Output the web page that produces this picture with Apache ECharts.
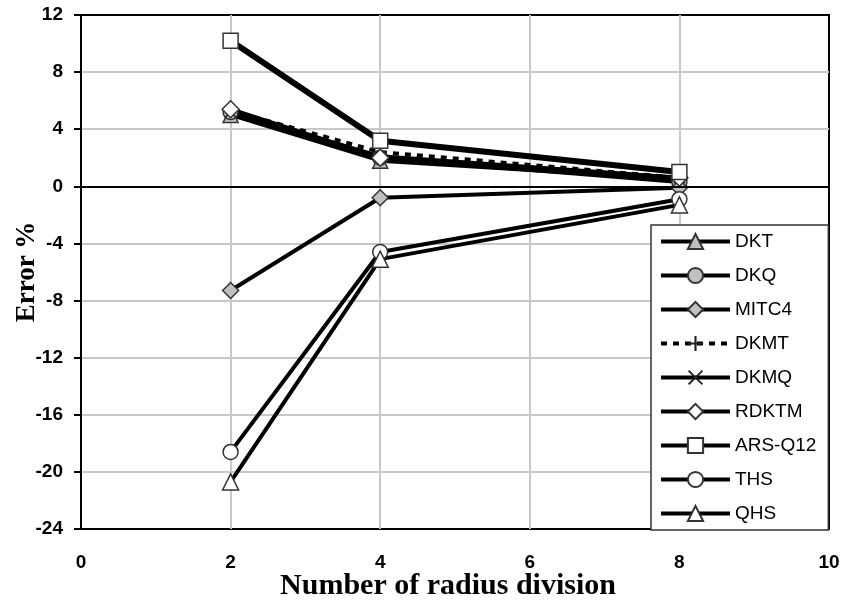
<!DOCTYPE html>
<html>
<head>
<meta charset="utf-8">
<script src="https://cdn.jsdelivr.net/npm/echarts@6.0.0/dist/echarts.min.js"></script>
<style>
  html, body { margin: 0; padding: 0; background: #fff; }
  #chart { width: 844px; height: 603px; }
</style>
</head>
<body>
<div id="chart"></div>
<script>
// radius divisions on the x axis
var divisions = [2, 4, 8];

// error % per element type
var dkt   = [5.0, 1.8, 0.5];
var dkq   = [5.2, 2.0, 0.3];
var mitc4 = [-7.3, -0.8, -0.1];
var dkmt  = [5.3, 2.4, 0.6];
var dkmq  = [5.2, 2.1, 0.6];
var rdktm = [5.4, 2.0, 0.6];
var arsQ12 = [10.2, 3.2, 1.0];
var ths   = [-18.6, -4.6, -0.9];
var qhs   = [-20.7, -5.1, -1.3];

var yTicks = { min: -24, max: 12, step: 4 };
var xTicks = { min: 0, max: 10, step: 2 };

var GRAY = '#c0c0c0';
var EDGE = '#333';
var plusPath = 'path://M4.3,0H5.7V4.3H10V5.7H5.7V10H4.3V5.7H0V4.3H4.3Z';
var crossPath = 'path://M0.9,0L5,4.1L9.1,0L10,0.9L5.9,5L10,9.1L9.1,10L5,5.9L0.9,10L0,9.1L4.1,5L0,0.9Z';

function pairs(vals) {
  return vals.map(function (v, i) { return [divisions[i], v]; });
}

function mk(name, vals, symbol, fill, opts) {
  opts = opts || {};
  return {
    name: name,
    type: 'line',
    data: pairs(vals),
    symbol: symbol,
    symbolSize: opts.size || 15,
    showAllSymbol: true,
    lineStyle: { color: '#000', width: opts.width || 4, type: opts.dash ? [6, 6] : 'solid' },
    itemStyle: { color: fill, borderColor: opts.border || EDGE, borderWidth: opts.bw != null ? opts.bw : 1.5 },
    emphasis: { disabled: true },
    animation: false
  };
}

var series = [
  mk('DKT', dkt, 'triangle', GRAY),
  mk('DKQ', dkq, 'circle', GRAY),
  mk('MITC4', mitc4, 'diamond', GRAY, { size: 16 }),
  mk('DKMT', dkmt, plusPath, '#222', { dash: true, bw: 0, size: 13 }),
  mk('DKMQ', dkmq, crossPath, '#222', { bw: 0, size: 12 }),
  mk('RDKTM', rdktm, 'diamond', '#fff', { size: 17 }),
  mk('ARS-Q12', arsQ12, 'rect', '#fff', { width: 6 }),
  mk('THS', ths, 'circle', '#fff'),
  mk('QHS', qhs, 'triangle', '#fff', { size: 16 })
];

// black line along zero
series[0].markLine = {
  silent: true,
  symbol: 'none',
  label: { show: false },
  lineStyle: { color: '#000', width: 2, type: 'solid' },
  data: [{ yAxis: 0 }],
  animation: false
};

var chart = echarts.init(document.getElementById('chart'), null, { renderer: 'canvas' });
chart.setOption({
  backgroundColor: '#fff',
  animation: false,
  grid: {
    left: 81, right: 15, top: 15, bottom: 74,
    outerBoundsMode: 'none',
    containLabel: false,
    show: true, borderColor: '#000', borderWidth: 2, backgroundColor: '#fff'
  },
  xAxis: {
    type: 'value',
    min: xTicks.min, max: xTicks.max, interval: xTicks.step,
    axisLine: { show: false },
    axisTick: { show: false },
    splitLine: { show: true, showMinLine: false, showMaxLine: false, lineStyle: { color: '#c8c8c8', width: 2 } },
    axisLabel: {
      color: '#000', fontFamily: 'Liberation Sans', fontWeight: 'bold', fontSize: 19, margin: 24
    },
    name: 'Number of radius division',
    nameLocation: 'middle',
    nameGap: 42,
    nameMoveOverlap: false,
    nameTextStyle: {
      color: '#000', fontFamily: 'Liberation Serif', fontWeight: 'bold', fontSize: 30,
      padding: [0, 14, 0, 0]
    }
  },
  yAxis: {
    type: 'value',
    min: yTicks.min, max: yTicks.max, interval: yTicks.step,
    axisLine: { show: true, onZero: false, lineStyle: { color: '#000', width: 2 } },
    axisTick: { show: true, length: 7, lineStyle: { color: '#000', width: 2 } },
    splitLine: { show: true, showMinLine: false, showMaxLine: false, lineStyle: { color: '#c8c8c8', width: 2 } },
    axisLabel: {
      color: '#000', fontFamily: 'Liberation Sans', fontWeight: 'bold', fontSize: 19, margin: 18
    },
    name: 'Error %',
    nameLocation: 'middle',
    nameGap: 40,
    nameMoveOverlap: false,
    nameTextStyle: { color: '#000', fontFamily: 'Liberation Serif', fontWeight: 'bold', fontSize: 27 }
  },
  legend: {
    orient: 'vertical',
    left: 651,
    top: 225,
    backgroundColor: '#fff',
    borderColor: '#333',
    borderWidth: 1.5,
    borderRadius: 0,
    padding: [7, 12, 7, 8],
    itemWidth: 69,
    itemHeight: 19,
    itemGap: 15,
    lineStyle: { width: 4 },
    textStyle: { color: '#000', fontFamily: 'Liberation Sans', fontSize: 19, lineHeight: 19 },
    data: series.map(function (s) { return s.name; })
  },
  series: series
});
</script>
</body>
</html>
